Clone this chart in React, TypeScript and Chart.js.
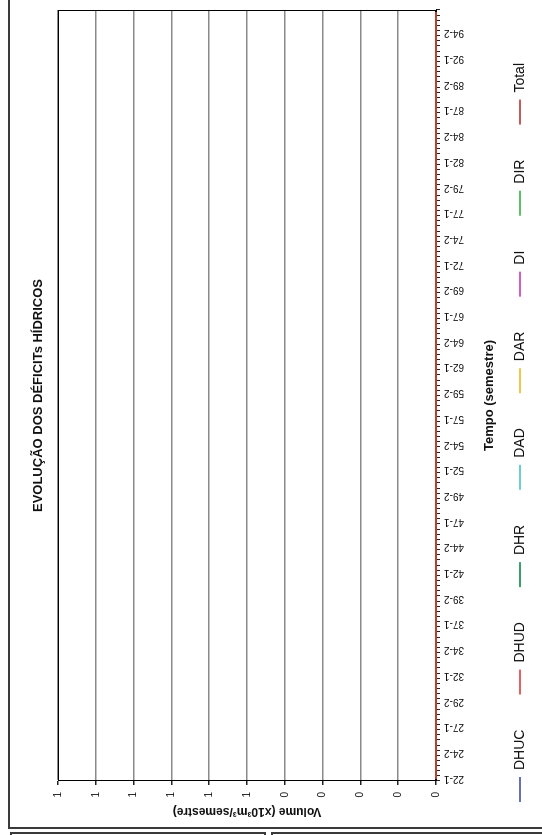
import React, { useEffect, useRef } from "react";
import { Chart, registerables } from "chart.js";

Chart.register(...registerables);

const CHART_TITLE = "EVOLUÇÃO DOS DÉFICITs HÍDRICOS";
const X_TITLE = "Tempo (semestre)";
const Y_TITLE = "Volume (x10³m³/semestre)";

// Semesters 1922-1 .. 1996-2
const CATEGORIES = [
  "22-1","22-2","23-1","23-2","24-1","24-2","25-1","25-2","26-1","26-2","27-1","27-2","28-1","28-2","29-1","29-2",
  "30-1","30-2","31-1","31-2","32-1","32-2","33-1","33-2","34-1","34-2","35-1","35-2","36-1","36-2","37-1","37-2","38-1","38-2","39-1","39-2",
  "40-1","40-2","41-1","41-2","42-1","42-2","43-1","43-2","44-1","44-2","45-1","45-2","46-1","46-2","47-1","47-2","48-1","48-2","49-1","49-2",
  "50-1","50-2","51-1","51-2","52-1","52-2","53-1","53-2","54-1","54-2","55-1","55-2","56-1","56-2","57-1","57-2","58-1","58-2","59-1","59-2",
  "60-1","60-2","61-1","61-2","62-1","62-2","63-1","63-2","64-1","64-2","65-1","65-2","66-1","66-2","67-1","67-2","68-1","68-2","69-1","69-2",
  "70-1","70-2","71-1","71-2","72-1","72-2","73-1","73-2","74-1","74-2","75-1","75-2","76-1","76-2","77-1","77-2","78-1","78-2","79-1","79-2",
  "80-1","80-2","81-1","81-2","82-1","82-2","83-1","83-2","84-1","84-2","85-1","85-2","86-1","86-2","87-1","87-2","88-1","88-2","89-1","89-2",
  "90-1","90-2","91-1","91-2","92-1","92-2","93-1","93-2","94-1","94-2","95-1","95-2","96-1","96-2",
];
const LABEL_EVERY = 5;

const Y_MIN = 0;
const Y_MAX = 1;
const Y_STEP = 0.1;

// All series read as zero over the whole period
const DHUC = [
  0,0,0,0,0,0,0,0,0,0,0,0,0,0,0,0,0,0,0,0,0,0,0,0,0,0,0,0,0,0,
  0,0,0,0,0,0,0,0,0,0,0,0,0,0,0,0,0,0,0,0,0,0,0,0,0,0,0,0,0,0,
  0,0,0,0,0,0,0,0,0,0,0,0,0,0,0,0,0,0,0,0,0,0,0,0,0,0,0,0,0,0,
  0,0,0,0,0,0,0,0,0,0,0,0,0,0,0,0,0,0,0,0,0,0,0,0,0,0,0,0,0,0,
  0,0,0,0,0,0,0,0,0,0,0,0,0,0,0,0,0,0,0,0,0,0,0,0,0,0,0,0,0,0,
];
const DHUD = [
  0,0,0,0,0,0,0,0,0,0,0,0,0,0,0,0,0,0,0,0,0,0,0,0,0,0,0,0,0,0,
  0,0,0,0,0,0,0,0,0,0,0,0,0,0,0,0,0,0,0,0,0,0,0,0,0,0,0,0,0,0,
  0,0,0,0,0,0,0,0,0,0,0,0,0,0,0,0,0,0,0,0,0,0,0,0,0,0,0,0,0,0,
  0,0,0,0,0,0,0,0,0,0,0,0,0,0,0,0,0,0,0,0,0,0,0,0,0,0,0,0,0,0,
  0,0,0,0,0,0,0,0,0,0,0,0,0,0,0,0,0,0,0,0,0,0,0,0,0,0,0,0,0,0,
];
const DHR = [
  0,0,0,0,0,0,0,0,0,0,0,0,0,0,0,0,0,0,0,0,0,0,0,0,0,0,0,0,0,0,
  0,0,0,0,0,0,0,0,0,0,0,0,0,0,0,0,0,0,0,0,0,0,0,0,0,0,0,0,0,0,
  0,0,0,0,0,0,0,0,0,0,0,0,0,0,0,0,0,0,0,0,0,0,0,0,0,0,0,0,0,0,
  0,0,0,0,0,0,0,0,0,0,0,0,0,0,0,0,0,0,0,0,0,0,0,0,0,0,0,0,0,0,
  0,0,0,0,0,0,0,0,0,0,0,0,0,0,0,0,0,0,0,0,0,0,0,0,0,0,0,0,0,0,
];
const DAD = [
  0,0,0,0,0,0,0,0,0,0,0,0,0,0,0,0,0,0,0,0,0,0,0,0,0,0,0,0,0,0,
  0,0,0,0,0,0,0,0,0,0,0,0,0,0,0,0,0,0,0,0,0,0,0,0,0,0,0,0,0,0,
  0,0,0,0,0,0,0,0,0,0,0,0,0,0,0,0,0,0,0,0,0,0,0,0,0,0,0,0,0,0,
  0,0,0,0,0,0,0,0,0,0,0,0,0,0,0,0,0,0,0,0,0,0,0,0,0,0,0,0,0,0,
  0,0,0,0,0,0,0,0,0,0,0,0,0,0,0,0,0,0,0,0,0,0,0,0,0,0,0,0,0,0,
];
const DAR = [
  0,0,0,0,0,0,0,0,0,0,0,0,0,0,0,0,0,0,0,0,0,0,0,0,0,0,0,0,0,0,
  0,0,0,0,0,0,0,0,0,0,0,0,0,0,0,0,0,0,0,0,0,0,0,0,0,0,0,0,0,0,
  0,0,0,0,0,0,0,0,0,0,0,0,0,0,0,0,0,0,0,0,0,0,0,0,0,0,0,0,0,0,
  0,0,0,0,0,0,0,0,0,0,0,0,0,0,0,0,0,0,0,0,0,0,0,0,0,0,0,0,0,0,
  0,0,0,0,0,0,0,0,0,0,0,0,0,0,0,0,0,0,0,0,0,0,0,0,0,0,0,0,0,0,
];
const DI = [
  0,0,0,0,0,0,0,0,0,0,0,0,0,0,0,0,0,0,0,0,0,0,0,0,0,0,0,0,0,0,
  0,0,0,0,0,0,0,0,0,0,0,0,0,0,0,0,0,0,0,0,0,0,0,0,0,0,0,0,0,0,
  0,0,0,0,0,0,0,0,0,0,0,0,0,0,0,0,0,0,0,0,0,0,0,0,0,0,0,0,0,0,
  0,0,0,0,0,0,0,0,0,0,0,0,0,0,0,0,0,0,0,0,0,0,0,0,0,0,0,0,0,0,
  0,0,0,0,0,0,0,0,0,0,0,0,0,0,0,0,0,0,0,0,0,0,0,0,0,0,0,0,0,0,
];
const DIR = [
  0,0,0,0,0,0,0,0,0,0,0,0,0,0,0,0,0,0,0,0,0,0,0,0,0,0,0,0,0,0,
  0,0,0,0,0,0,0,0,0,0,0,0,0,0,0,0,0,0,0,0,0,0,0,0,0,0,0,0,0,0,
  0,0,0,0,0,0,0,0,0,0,0,0,0,0,0,0,0,0,0,0,0,0,0,0,0,0,0,0,0,0,
  0,0,0,0,0,0,0,0,0,0,0,0,0,0,0,0,0,0,0,0,0,0,0,0,0,0,0,0,0,0,
  0,0,0,0,0,0,0,0,0,0,0,0,0,0,0,0,0,0,0,0,0,0,0,0,0,0,0,0,0,0,
];
const TOTAL = [
  0,0,0,0,0,0,0,0,0,0,0,0,0,0,0,0,0,0,0,0,0,0,0,0,0,0,0,0,0,0,
  0,0,0,0,0,0,0,0,0,0,0,0,0,0,0,0,0,0,0,0,0,0,0,0,0,0,0,0,0,0,
  0,0,0,0,0,0,0,0,0,0,0,0,0,0,0,0,0,0,0,0,0,0,0,0,0,0,0,0,0,0,
  0,0,0,0,0,0,0,0,0,0,0,0,0,0,0,0,0,0,0,0,0,0,0,0,0,0,0,0,0,0,
  0,0,0,0,0,0,0,0,0,0,0,0,0,0,0,0,0,0,0,0,0,0,0,0,0,0,0,0,0,0,
];

const SERIES_NAMES = ["DHUC", "DHUD", "DHR", "DAD", "DAR", "DI", "DIR", "Total"];
const SERIES_DATA = [DHUC, DHUD, DHR, DAD, DAR, DI, DIR, TOTAL];
const LEGEND_COLORS = ["#6670b4", "#e8605e", "#3c9e68", "#6ccfcf", "#f3c648", "#cf5fc0", "#5cbf6c", "#c45c5c"];
const LINE_COLORS = ["#b8402e", "#b8402e", "#b8402e", "#b8402e", "#b8402e", "#b8402e", "#b8402e", "#b8402e"];

// canvas drawn in landscape orientation, then turned a quarter turn counter-clockwise
const CW = 855;
const CH = 542;
const FONT = "'Liberation Sans', Arial, Helvetica, sans-serif";

const areaBorder = {
  id: "areaBorder",
  beforeDatasetsDraw(chart: any) {
    const { ctx, chartArea: a } = chart;
    ctx.save();
    ctx.strokeStyle = "#000";
    ctx.lineWidth = 1;
    ctx.strokeRect(
      Math.round(a.left) + 0.5,
      Math.round(a.top) + 0.5,
      Math.round(a.right - a.left) - 1,
      Math.round(a.bottom - a.top) - 1
    );
    ctx.restore();
  },
};

export default function App() {
  const ref = useRef<HTMLCanvasElement>(null);

  useEffect(() => {
    if (!ref.current) return;
    Chart.defaults.font.family = FONT;
    Chart.defaults.color = "#111";
    const chart = new Chart(ref.current, {
      type: "line",
      data: {
        labels: CATEGORIES,
        datasets: SERIES_NAMES.map((name, i) => ({
          label: name,
          data: SERIES_DATA[i],
          borderColor: LINE_COLORS[i],
          backgroundColor: LEGEND_COLORS[i],
          borderWidth: 2,
          pointRadius: 0,
          fill: false,
          tension: 0,
          clip: false,
        })),
      },
      options: {
        responsive: false,
        animation: false,
        devicePixelRatio: 1,
        events: [],
        layout: { padding: { left: 0, right: 10, top: 0, bottom: 5 } },
        plugins: {
          title: {
            display: true,
            text: CHART_TITLE,
            position: "top",
            fullSize: false,
            color: "#111",
            font: { size: 13, weight: "bold" },
            padding: { top: 30.2, bottom: 12.2 },
          },
          legend: {
            position: "bottom",
            align: "center",
            labels: {
              boxWidth: 25,
              boxHeight: 2,
              padding: 35,
              color: "#111",
              font: { size: 14 },
              generateLabels: (chart: any) =>
                Chart.defaults.plugins.legend.labels
                  .generateLabels(chart)
                  .map((l: any) => ({ ...l, lineWidth: 0, strokeStyle: l.fillStyle })),
            },
          },
          tooltip: { enabled: false },
        },
        scales: {
          x: {
            type: "category",
            offset: true,
            grid: {
              offset: true,
              drawOnChartArea: false,
              drawTicks: true,
              tickLength: 4,
              color: "#222",
              tickColor: "#222",
              lineWidth: 1,
            },
            border: { display: true, color: "#000", width: 1 },
            ticks: {
              autoSkip: false,
              minRotation: 90,
              maxRotation: 90,
              padding: 4,
              color: "#111",
              font: { size: 10 },
              callback: (_v: any, i: number) => (i % LABEL_EVERY === 0 ? CATEGORIES[i] : ""),
            },
            title: {
              display: true,
              text: X_TITLE,
              color: "#111",
              font: { size: 13, weight: "bold" },
              padding: { top: 0, bottom: -18.8 },
            },
            afterFit: (s: any) => {
              s.height = 42;
              s.paddingLeft = 0;
              s.paddingRight = 0;
            },
          },
          y: {
            type: "linear",
            min: Y_MIN,
            max: Y_MAX,
            ticks: {
              stepSize: Y_STEP,
              padding: 7,
              color: "#111",
              font: { size: 10 },
              callback: (v: any) => String(Math.round(Number(v))),
            },
            grid: {
              color: "#8a8a8a",
              lineWidth: 1.5,
              tickLength: 4,
              tickColor: "#222",
            },
            border: { display: true, color: "#000", width: 1 },
            title: {
              display: true,
              text: Y_TITLE,
              color: "#111",
              font: { size: 12, weight: "bold" },
              padding: { top: 36.8, bottom: 0 },
            },
            afterFit: (s: any) => {
              s.width = 74;
              s.paddingTop = 0;
              s.paddingBottom = 0;
            },
          },
        },
      },
      plugins: [areaBorder],
    } as any);
    return () => chart.destroy();
  }, []);

  const line = (left: number, top: number, width: number, height: number) => (
    <div style={{ position: "absolute", left, top, width, height, background: "#3a3a3a" }} />
  );

  return (
    <div style={{ position: "absolute", left: 0, top: 0, width: 542, height: 835, overflow: "hidden", background: "#fff" }}>
      <div
        style={{
          position: "absolute",
          left: 0,
          top: 0,
          width: CW,
          height: CH,
          transformOrigin: "0 0",
          transform: `translate(0px, ${CW}px) rotate(-90deg)`,
        }}
      >
        <canvas ref={ref} width={CW} height={CH} style={{ display: "block", width: CW, height: CH }} />
      </div>
      {line(8, 0, 2, 829)}
      {line(8, 827, 534, 2)}
      {line(10, 832, 256, 2)}
      {line(10, 832, 2, 3)}
      {line(264, 832, 2, 3)}
      {line(271, 832, 271, 2)}
      {line(271, 832, 2, 3)}
    </div>
  );
}
